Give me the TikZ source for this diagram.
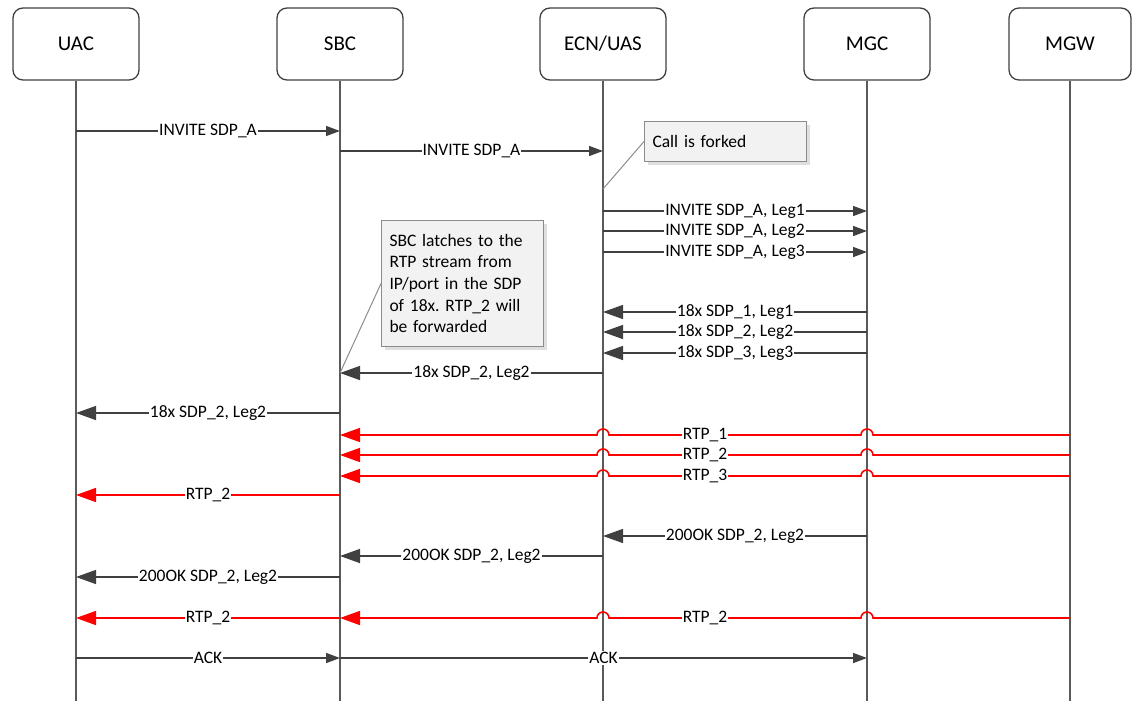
\documentclass[tikz,border=0pt]{standalone}
\usepackage{fontspec}
\setmainfont{Carlito}
\frenchspacing
\usetikzlibrary{arrows.meta,calc,shadows}
\definecolor{lifegray}{HTML}{5A5A5A}
\definecolor{msggray}{HTML}{404040}
\definecolor{notegray}{HTML}{8C8C8C}
\definecolor{rtpred}{HTML}{FF0000}
\tikzset{
  actor/.style={draw=msggray, line width=1.3pt, rounded corners=10pt, minimum width=126pt, minimum height=72pt, font=\fontsize{21}{25}\selectfont},
  life/.style={draw=lifegray, line width=2pt},
  msg/.style={draw=msggray, line width=1.5pt},
  fwd/.style={msg, -{Triangle[length=14pt,width=10pt]}},
  bwd/.style={msg, -{Triangle[length=20pt,width=14pt]}},
  rtp/.style={draw=rtpred, line width=1.6pt, -{Triangle[length=20pt,width=14pt]}},
  lbl/.style={fill=white, inner sep=1pt, font=\fontsize{17.5}{20}\selectfont},
  note/.style={draw=notegray, fill=black!5, line width=1pt, drop shadow={opacity=0.25, shadow xshift=3pt, shadow yshift=-3pt}, align=left, inner sep=8pt, font=\fontsize{17.5}{21.7}\selectfont},
  noteline/.style={draw=notegray, line width=1pt},
}
\begin{document}
\begin{tikzpicture}[x=1pt,y=-1pt]
\useasboundingbox (0,0) rectangle (1132,701);
% actors
\node[actor] (uac) at (76,44) {UAC};
\node[actor] (sbc) at (340,44) {SBC};
\node[actor] (ecn) at (603,44) {ECN/UAS};
\node[actor] (mgc) at (867,44) {MGC};
\node[actor, minimum width=122pt] (mgw) at (1070,44) {MGW};
\foreach \a in {uac,sbc,ecn,mgc,mgw}
  \draw[life] (\a.south) -- (\a |- 0,701);
% invite
\draw[fwd] (uac |- 0,131) -- node[lbl]{INVITE SDP\_A} (sbc |- 0,131);
\draw[fwd] (sbc |- 0,151) -- node[lbl]{INVITE SDP\_A} (ecn |- 0,151);
\node[note, text width=146pt, minimum height=40pt, anchor=north west] (fork) at (644,121) {Call is forked};
\draw[noteline] (fork.west) -- (ecn |- 0,189);
\foreach \y/\n in {211/1,231/2,252/3}
  \draw[fwd] (ecn |- 0,\y) -- node[lbl]{INVITE SDP\_A, Leg\n} (mgc |- 0,\y);
% 18x
\node[note, text width=146pt, minimum height=126pt, anchor=north west] (latch) at (381,220) {SBC latches to the\\RTP stream from\\IP/port in the SDP\\of 18x. RTP\_2 will\\be forwarded};
\draw[noteline] (latch.west) -- (sbc |- 0,373);
\foreach \y/\n in {312/1,332/2,353/3}
  \draw[bwd] (mgc |- 0,\y) -- node[lbl]{18x SDP\_\n, Leg\n} (ecn |- 0,\y);
\draw[bwd] (ecn |- 0,373) -- node[lbl]{18x SDP\_2, Leg2} (sbc |- 0,373);
\draw[bwd] (sbc |- 0,413) -- node[lbl]{18x SDP\_2, Leg2} (uac |- 0,413);
% early media
\foreach \y/\n in {435/1,455/2,476/3} {
  \draw[rtp] (mgw |- 0,\y) -- ($(mgc |- 0,\y)+(6,0)$) arc[start angle=0, end angle=180, radius=6pt]
    -- ($(ecn |- 0,\y)+(6,0)$) arc[start angle=0, end angle=180, radius=6pt] -- (sbc |- 0,\y);
  \path (mgw |- 0,\y) -- node[lbl]{RTP\_\n} (sbc |- 0,\y);
}
\draw[rtp] (sbc |- 0,495) -- node[lbl]{RTP\_2} (uac |- 0,495);
% 200 OK
\draw[bwd] (mgc |- 0,536) -- node[lbl]{200OK SDP\_2, Leg2} (ecn |- 0,536);
\draw[bwd] (ecn |- 0,556) -- node[lbl]{200OK SDP\_2, Leg2} (sbc |- 0,556);
\draw[bwd] (sbc |- 0,577) -- node[lbl]{200OK SDP\_2, Leg2} (uac |- 0,577);
% media
\draw[rtp] (mgw |- 0,618) -- ($(mgc |- 0,618)+(6,0)$) arc[start angle=0, end angle=180, radius=6pt]
  -- ($(ecn |- 0,618)+(6,0)$) arc[start angle=0, end angle=180, radius=6pt] -- (sbc |- 0,618);
\path (mgw |- 0,618) -- node[lbl]{RTP\_2} (sbc |- 0,618);
\draw[rtp] (sbc |- 0,618) -- node[lbl]{RTP\_2} (uac |- 0,618);
% ack
\draw[fwd] (uac |- 0,658) -- node[lbl]{ACK} (sbc |- 0,658);
\draw[fwd] (sbc |- 0,658) -- node[lbl]{ACK} (mgc |- 0,658);
\end{tikzpicture}
\end{document}
